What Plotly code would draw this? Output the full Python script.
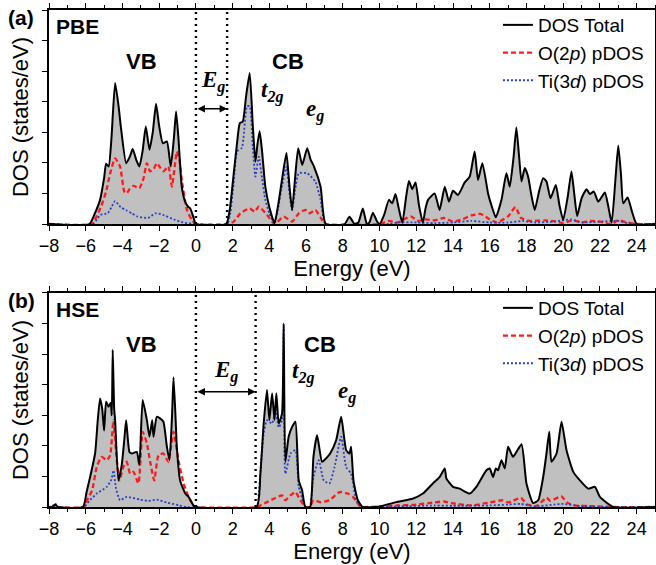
import plotly.graph_objects as go

# ---------------- data ----------------
pbe_total_e = [-8, -5.8, -5.5, -5.22, -5.0, -4.89, -4.75, -4.6, -4.4, -4.2, -4.09, -3.8, -3.6, -3.44, -3.25, -3.08, -2.9, -2.73, -2.53, -2.35, -2.17, -2.0, -1.8, -1.58, -1.37, -1.2, -1.08, -0.95, -0.77, -0.6, -0.43, -0.3, -0.15, 0, 1.65, 1.85, 2.06, 2.25, 2.39, 2.55, 2.73, 2.93, 3.1, 3.24, 3.35, 3.47, 3.6, 3.78, 4.0, 4.28, 4.5, 4.7, 4.93, 5.1, 5.24, 5.4, 5.57, 5.79, 6.06, 6.25, 6.43, 6.79, 7.07, 8.1, 8.36, 8.64, 8.85, 9.09, 9.31, 9.45, 9.64, 9.85, 10.0, 10.25, 10.51, 10.69, 10.87, 11.05, 11.24, 11.45, 11.6, 11.78, 11.96, 12.15, 12.36, 12.5, 12.64, 13.0, 13.27, 13.55, 13.78, 14.0, 14.27, 14.64, 14.91, 15.18, 15.36, 15.6, 15.91, 16.1, 16.33, 16.64, 16.91, 17.09, 17.3, 17.45, 17.6, 17.73, 17.91, 18.09, 18.25, 18.45, 18.7, 18.91, 19.09, 19.31, 19.6, 19.8, 20.0, 20.25, 20.45, 20.6, 20.76, 21.0, 21.27, 21.45, 21.67, 21.91, 22.27, 22.45, 22.64, 22.85, 23.0, 23.15, 23.27, 23.51, 23.75, 24.0, 25]
pbe_total = [0, 0, 0.35, 0.79, 1.5, 1.97, 1.88, 2.8, 4.61, 3.8, 3.19, 1.99, 2.2, 2.45, 2.1, 1.88, 2.4, 3.19, 2.43, 3.0, 3.93, 3.2, 2.64, 2.70, 1.88, 2.8, 3.68, 2.8, 1.22, 0.75, 0.57, 0.5, 0.25, 0, 0, 0.5, 1.66, 2.7, 3.3, 3.35, 4.17, 4.94, 3.2, 2.04, 2.6, 3.03, 2.4, 1.22, 0.55, 0.03, 0.7, 1.5, 2.32, 1.2, 0.46, 1.5, 2.48, 1.93, 2.48, 2.1, 1.88, 1.22, 0, 0, 0.24, 0.0, 0.05, 0.51, 0.0, 0.05, 0.37, 0.1, 0.0, 0.3, 0.79, 0.68, 0.98, 0.5, 0.04, 0.9, 1.41, 1.14, 1.36, 0.6, 0.04, 0.5, 0.79, 1.0, 0.46, 1.22, 0.73, 1.09, 0.95, 1.36, 1.55, 2.37, 1.44, 1.99, 1.0, 0.6, 0.22, 0.79, 1.66, 1.22, 2.2, 3.16, 2.2, 1.39, 1.83, 1.55, 1.0, 0.46, 1.1, 1.5, 1.39, 0.84, 1.28, 0.6, 0.13, 0.9, 1.72, 1.0, 0.26, 0.84, 1.14, 0.98, 1.06, 0.73, 1.03, 0.6, 0.04, 1.5, 2.57, 1.6, 0.68, 0.87, 0.4, 0, 0]

pbe_o2p_e = [-8, -5.7, -5.4, -5.15, -4.89, -4.67, -4.4, -4.13, -3.9, -3.77, -3.6, -3.4, -3.08, -2.85, -2.67, -2.5, -2.3, -2.13, -1.95, -1.77, -1.5, -1.31, -1.15, -1.04, -0.9, -0.77, -0.49, -0.22, 0, 1.7, 2.06, 2.42, 2.93, 3.2, 3.42, 3.87, 4.28, 4.78, 5.24, 5.6, 5.96, 6.2, 6.5, 6.87, 7.07, 10.0, 10.5, 11.0, 11.7, 12.1, 12.5, 13.0, 13.5, 14.0, 14.5, 15.0, 15.5, 16.0, 16.4, 17.0, 17.4, 17.7, 18.2, 19.0, 19.6, 20.0, 20.5, 21.0, 21.5, 22.0, 22.6, 23.0, 23.5, 24.0, 25]
pbe_o2p = [0, 0, 0.25, 0.6, 1.06, 1.66, 2.15, 1.88, 1.06, 1.0, 1.15, 1.25, 1.17, 1.5, 1.99, 1.72, 1.8, 1.99, 1.85, 1.72, 1.88, 1.22, 1.9, 2.37, 2.1, 1.44, 0.46, 0.13, 0, 0, 0.08, 0.35, 0.51, 0.4, 0.57, 0.3, 0, 0.24, 0.08, 0.35, 0.46, 0.35, 0.46, 0.13, 0, 0, 0.1, 0.05, 0.25, 0.1, 0.15, 0.12, 0.2, 0.08, 0.15, 0.28, 0.33, 0.15, 0.05, 0.25, 0.55, 0.2, 0.1, 0.12, 0.08, 0.03, 0.12, 0.05, 0.1, 0.08, 0.0, 0.12, 0.05, 0, 0]

pbe_ti3d_e = [-8, -5.6, -5.2, -4.8, -4.6, -4.4, -4.1, -3.8, -3.5, -3.2, -2.6, -2.2, -1.8, -1.2, -0.7, 0, 1.7, 1.87, 2.05, 2.24, 2.51, 2.78, 2.93, 3.1, 3.24, 3.42, 3.6, 3.78, 4.0, 4.28, 4.5, 4.7, 4.93, 5.1, 5.24, 5.4, 5.6, 6.06, 6.5, 6.79, 7.07, 10.5, 11, 12, 13, 14, 15, 16, 17, 17.8, 18.5, 19.5, 20.45, 21, 22, 23, 23.5, 24, 25]
pbe_ti3d = [0, 0, 0.3, 0.35, 0.55, 0.75, 0.55, 0.45, 0.35, 0.25, 0.2, 0.35, 0.3, 0.15, 0.05, 0, 0, 0.35, 1.3, 2.37, 2.5, 3.85, 3.85, 2.5, 1.55, 2.2, 1.5, 0.79, 0.35, 0, 0.6, 1.28, 1.88, 1.0, 0.46, 1.1, 1.66, 1.66, 1.39, 0.79, 0, 0.0, 0.05, 0.05, 0.03, 0.05, 0.1, 0.05, 0.05, 0.1, 0.05, 0.08, 0.15, 0.05, 0.08, 0.1, 0.03, 0, 0]

hse_total_e = [-8, -7.8, -7.67, -7.5, -6.15, -5.95, -5.76, -5.49, -5.35, -5.22, -5.1, -5.0, -4.89, -4.76, -4.64, -4.58, -4.53, -4.45, -4.4, -4.22, -4.04, -3.9, -3.8, -3.62, -3.49, -3.22, -3.08, -2.9, -2.67, -2.53, -2.38, -2.31, -2.13, -1.95, -1.77, -1.58, -1.44, -1.3, -1.22, -1.1, -1.04, -0.86, -0.58, -0.4, -0.13, 0, 3.3, 3.51, 3.69, 3.87, 4.0, 4.15, 4.28, 4.38, 4.51, 4.69, 4.78, 4.87, 5.05, 5.24, 5.42, 5.6, 5.78, 5.96, 6.22, 6.4, 6.6, 6.87, 7.1, 7.31, 7.64, 7.91, 8.18, 8.36, 8.45, 8.58, 8.82, 9.09, 10.0, 10.9, 11.8, 12.36, 12.9, 13.27, 13.55, 13.64, 14.0, 14.36, 14.91, 15.27, 15.82, 16.0, 16.18, 16.33, 16.45, 16.64, 16.82, 17.0, 17.27, 17.73, 18.0, 18.36, 18.64, 18.91, 19.09, 19.24, 19.36, 19.64, 19.91, 20.18, 20.55, 20.91, 21.36, 21.73, 22.0, 22.73, 25]
hse_total = [0, 0, 0.08, 0, 0, 0.5, 0.98, 1.75, 2.8, 3.55, 3.2, 2.5, 3.44, 3.28, 3.4, 3.0, 5.14, 3.2, 2.84, 0.87, 1.37, 2.2, 2.84, 1.8, 1.75, 1.8, 1.37, 3.5, 2.84, 2.3, 2.84, 2.3, 2.95, 2.9, 2.79, 1.97, 1.53, 3.0, 4.24, 2.8, 1.97, 0.87, 0.44, 0.33, 0.05, 0, 0, 1.09, 2.73, 3.83, 2.84, 3.72, 2.84, 3.72, 2.73, 3.06, 6.0, 1.48, 2.3, 2.62, 2.79, 0.87, 0.55, 0, 0, 1.64, 2.35, 1.48, 1.6, 1.75, 2.19, 2.95, 1.86, 1.75, 1.97, 0.87, 0.22, 0, 0.02, 0.16, 0.27, 0.44, 0.77, 0.98, 1.26, 0.93, 0.66, 0.6, 0.44, 0.66, 1.2, 1.26, 0.98, 1.26, 1.2, 1.53, 1.26, 1.97, 1.64, 2.05, 0.77, 0.13, 0.22, 0.98, 1.75, 2.46, 1.48, 1.75, 2.79, 1.86, 1.15, 0.87, 0.6, 0.66, 0.33, 0, 0]

hse_o2p_e = [-8, -6.1, -6.0, -5.65, -5.4, -5.13, -4.85, -4.67, -4.49, -4.31, -4.16, -3.95, -3.77, -3.58, -3.4, -3.13, -2.9, -2.67, -2.49, -2.27, -2.04, -1.77, -1.5, -1.22, -0.95, -0.67, -0.4, -0.13, 0, 3.4, 3.51, 3.87, 4.24, 4.69, 4.87, 5.15, 5.42, 5.69, 5.96, 6.2, 6.4, 6.78, 7.27, 7.82, 8.27, 8.55, 8.9, 9.1, 10, 11, 12, 13, 13.5, 14, 15, 16, 16.7, 17, 17.7, 18, 18.5, 19.1, 19.3, 19.9, 20.2, 20.6, 21.5, 22.7, 25]
hse_o2p = [0, 0, 0.13, 0.55, 1.31, 1.64, 1.53, 1.69, 2.84, 1.53, 0.87, 1.31, 1.48, 1.09, 1.15, 0.77, 2.46, 2.08, 1.48, 0.87, 1.69, 1.75, 1.48, 2.46, 1.53, 0.77, 0.33, 0.05, 0, 0, 0.05, 0.16, 0.27, 0.38, 0.22, 0.38, 0.49, 0.22, 0, 0, 0.22, 0.16, 0.22, 0.49, 0.44, 0.33, 0.05, 0, 0.02, 0.05, 0.08, 0.15, 0.18, 0.12, 0.05, 0.15, 0.22, 0.15, 0.3, 0.1, 0.02, 0.3, 0.2, 0.35, 0.15, 0.05, 0.03, 0, 0]

hse_ti3d_e = [-8, -7.85, -7.67, -7.5, -6.1, -5.8, -5.4, -4.85, -4.6, -4.49, -4.35, -4.13, -3.77, -3.04, -2.6, -2.13, -1.6, -0.9, -0.5, 3.3, 3.42, 3.69, 3.87, 4.15, 4.33, 4.51, 4.69, 4.78, 4.87, 5.15, 5.42, 5.6, 5.78, 5.96, 6.2, 6.4, 6.69, 6.96, 7.27, 7.55, 7.91, 8.18, 8.45, 8.73, 9.0, 11, 13, 14, 16, 17, 17.7, 18.5, 19.5, 20, 21, 22.7, 25]
hse_ti3d = [0, 0, 0.12, 0, 0, 0.2, 0.44, 0.66, 0.9, 1.2, 0.6, 0.22, 0.33, 0.24, 0.2, 0.24, 0.15, 0.05, 0, 0, 0.44, 2.4, 2.84, 2.73, 3.17, 2.6, 2.84, 5.9, 1.09, 1.75, 1.86, 0.66, 0.3, 0, 0, 0.98, 1.53, 0.87, 0.77, 1.31, 2.3, 1.31, 1.09, 0.22, 0, 0.02, 0.05, 0.04, 0.05, 0.08, 0.1, 0.02, 0.08, 0.1, 0.03, 0, 0]

gap_pbe = 1.7
gap_hse = 3.25
x_ticks = list(range(-8, 26, 2))
legend_names = ["DOS Total", "O(2<i>p</i>) pDOS", "Ti(3<i>d</i>) pDOS"]

# ---------------- figure ----------------
SANS = "Liberation Sans, Arial, Helvetica, sans-serif"
SERIF = "Liberation Serif, Times New Roman, serif"
fig = go.Figure()

SPL = dict(shape="spline", smoothing=0.5)
panels = [
    ("x", "y", "legend", pbe_total_e, pbe_total, pbe_o2p_e, pbe_o2p, pbe_ti3d_e, pbe_ti3d),
    ("x2", "y2", "legend2", hse_total_e, hse_total, hse_o2p_e, hse_o2p, hse_ti3d_e, hse_ti3d),
]
for xa, ya, lg, te, tv, oe, ov, de, dv in panels:
    # grey area under the total DOS (no legend entry)
    fig.add_trace(go.Scatter(x=te, y=tv, xaxis=xa, yaxis=ya, showlegend=False, hoverinfo="skip",
                             mode="lines", fill="tozeroy", fillcolor="#c0c0c0",
                             line=dict(color="rgba(0,0,0,0)", width=0, **SPL)))
    fig.add_trace(go.Scatter(x=oe, y=ov, xaxis=xa, yaxis=ya, legend=lg, name=legend_names[1],
                             legendrank=2, mode="lines",
                             line=dict(color="#ff1a1a", width=2.3, dash="5px,3px", **SPL)))
    fig.add_trace(go.Scatter(x=de, y=dv, xaxis=xa, yaxis=ya, legend=lg, name=legend_names[2],
                             legendrank=3, mode="lines",
                             line=dict(color="#2a40c0", width=1.8, dash="2px,2px", **SPL)))
    fig.add_trace(go.Scatter(x=te, y=tv, xaxis=xa, yaxis=ya, legend=lg, name=legend_names[0],
                             legendrank=1, mode="lines",
                             line=dict(color="black", width=2, **SPL)))

top_dom = [0.5694, 1.0]
bot_dom = [0.0, 0.4306]

xax = dict(range=[-8, 25], tickvals=x_ticks, ticks="outside", ticklen=5, tickwidth=1.2,
           tickcolor="black", showline=True, linecolor="black", linewidth=1.5, mirror="allticks",
           minor=dict(dtick=1, ticklen=3, ticks="outside", tickcolor="black", tickwidth=1),
           tickfont=dict(family=SANS, size=18, color="black"), showgrid=False, zeroline=False,
           automargin=False,
           title=dict(text="Energy (eV)", font=dict(family=SANS, size=22, color="black"), standoff=3))
yax = dict(range=[0, 7], dtick=1, ticks="outside", ticklen=5, tickwidth=1.2, tickcolor="black",
           showticklabels=False, showline=True, linecolor="black", linewidth=1.5, mirror="allticks",
           showgrid=False, zeroline=False, automargin=False,
           title=dict(text="DOS (states/eV)", font=dict(family=SANS, size=22, color="black"), standoff=8))

leg = dict(xanchor="right", yanchor="top", bgcolor="rgba(0,0,0,0)", borderwidth=0,
           font=dict(family=SANS, size=19, color="black"), tracegroupgap=0)
fig.update_layout(
    width=656, height=565, margin=dict(l=49, r=1, t=10, b=58, autoexpand=False),
    paper_bgcolor="white", plot_bgcolor="white",
    xaxis=dict(xax, domain=[0, 1], anchor="y"),
    yaxis=dict(yax, domain=top_dom, anchor="x"),
    xaxis2=dict(xax, domain=[0, 1], anchor="y2"),
    yaxis2=dict(yax, domain=bot_dom, anchor="x2"),
    legend=dict(leg, x=0.99, y=top_dom[1] + 0.008),
    legend2=dict(leg, x=0.99, y=bot_dom[1] + 0.008),
    showlegend=True,
)

shapes = []
annots = []
for xa, ya, gap, dom, tag, meth, cbx, eg, t2g, egl in [
    ("x", "y", gap_pbe, top_dom, "(a)", "PBE", 5.04, (0.15, 4.65), (3.46, 4.35), (5.91, 3.72)),
    ("x2", "y2", gap_hse, bot_dom, "(b)", "HSE", 6.73, (0.9, 4.42), (5.15, 4.4), (7.62, 3.75)),
]:
    for xv in (0, gap):
        shapes.append(dict(type="line", xref=xa, yref=ya + " domain", x0=xv, x1=xv, y0=0, y1=1,
                           line=dict(color="black", width=2.4, dash="2px,4px")))
    annots.append(dict(xref=xa, yref=ya, x=gap, y=3.77, ax=0, ay=3.77, axref=xa, ayref=ya,
                       text="", showarrow=True, arrowhead=2, arrowside="end+start",
                       arrowsize=1, arrowwidth=1.5, arrowcolor="black"))
    annots.append(dict(xref="paper", yref="paper", x=-0.046, y=dom[1] - 0.016, text="<b>%s</b>" % tag,
                       showarrow=False, xanchor="center", yanchor="middle",
                       font=dict(family=SANS, size=21, color="black")))
    annots.append(dict(xref=xa, yref=ya, x=-6.47, y=6.47, text="<b>%s</b>" % meth, showarrow=False,
                       xanchor="center", yanchor="middle", font=dict(family=SANS, size=21, color="black")))
    annots.append(dict(xref=xa, yref=ya, x=-2.98, y=5.32, text="<b>VB</b>", showarrow=False,
                       xanchor="center", yanchor="middle", font=dict(family=SANS, size=22, color="black")))
    annots.append(dict(xref=xa, yref=ya, x=cbx, y=5.32, text="<b>CB</b>", showarrow=False,
                       xanchor="center", yanchor="middle", font=dict(family=SANS, size=22, color="black")))
    annots.append(dict(xref=xa, yref=ya, x=eg[0], y=eg[1], text="<b><i>E</i></b><sub><b><i>g</i></b></sub>",
                       showarrow=False, xanchor="left", yanchor="middle",
                       font=dict(family=SERIF, size=23, color="black")))
    annots.append(dict(xref=xa, yref=ya, x=t2g[0], y=t2g[1], text="<b><i>t</i></b><sub><b><i>2g</i></b></sub>",
                       showarrow=False, xanchor="left", yanchor="middle",
                       font=dict(family=SERIF, size=23, color="black")))
    annots.append(dict(xref=xa, yref=ya, x=egl[0], y=egl[1], text="<b><i>e</i></b><sub><b><i>g</i></b></sub>",
                       showarrow=False, xanchor="left", yanchor="middle",
                       font=dict(family=SERIF, size=23, color="black")))

fig.update_layout(shapes=shapes, annotations=annots)
fig.write_html("out.html", config={"displayModeBar": False},
               post_script="document.body.style.margin='0';document.body.style.padding='0';")
